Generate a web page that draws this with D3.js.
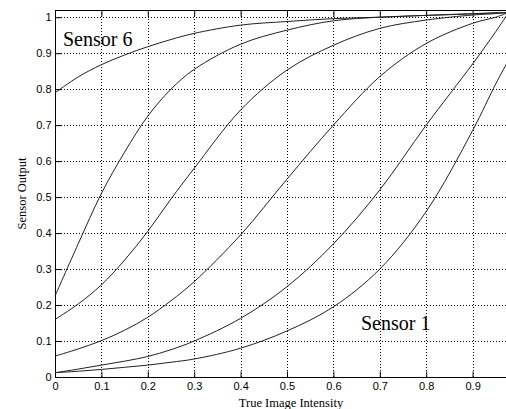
<!DOCTYPE html>
<html>
<head>
<meta charset="utf-8">
<script src="https://cdn.jsdelivr.net/npm/d3@7"></script>
<style>
  body { margin: 0; background: #fff; }
  svg { display: block; }
</style>
</head>
<body>
<svg id="chart" width="506" height="409"></svg>
<script>
// sample positions along the intensity axis
const intensity = [0, 0.05, 0.1, 0.15, 0.2, 0.25, 0.3, 0.4, 0.5, 0.6, 0.7, 0.8, 0.9, 0.95, 0.975];

const sensor1 = [0.012, 0.016, 0.021, 0.027, 0.033, 0.041, 0.05, 0.08, 0.128, 0.195, 0.30, 0.46, 0.685, 0.815, 0.875];
const sensor2 = [0.012, 0.022, 0.033, 0.044, 0.057, 0.076, 0.10, 0.163, 0.251, 0.37, 0.52, 0.70, 0.87, 0.96, 1.008];
const sensor3 = [0.058, 0.078, 0.101, 0.13, 0.166, 0.212, 0.265, 0.395, 0.55, 0.70, 0.835, 0.927, 0.983, 1.0, 1.012];
const sensor4 = [0.16, 0.203, 0.256, 0.325, 0.405, 0.495, 0.58, 0.742, 0.853, 0.922, 0.969, 0.992, 1.006, 1.01, 1.013];
const sensor5 = [0.225, 0.37, 0.51, 0.625, 0.725, 0.80, 0.855, 0.925, 0.964, 0.99, 1.0, 1.005, 1.01, 1.012, 1.013];
const sensor6 = [0.79, 0.834, 0.868, 0.895, 0.918, 0.938, 0.955, 0.978, 0.988, 0.996, 1.0, 1.005, 1.009, 1.012, 1.013];

const xTicks = [0, 0.1, 0.2, 0.3, 0.4, 0.5, 0.6, 0.7, 0.8, 0.9];
const yTicks = [0, 0.1, 0.2, 0.3, 0.4, 0.5, 0.6, 0.7, 0.8, 0.9, 1];

const svg = d3.select("#chart");

const plotLeft = 55, plotRight = 519, plotTop = 10, plotBottom = 377;

const x = d3.scaleLinear().domain([0, 1]).range([plotLeft, plotRight]);
const y = d3.scaleLinear().domain([0, 1.02]).range([plotBottom, plotTop]);

const tickFmt = d => d === 0 ? "0" : d === 1 ? "1" : d3.format(".1f")(d);

// dotted grid
svg.append("g")
  .selectAll("line")
  .data(xTicks.filter(d => d > 0))
  .join("line")
  .attr("x1", d => Math.round(x(d)) + 0.5)
  .attr("x2", d => Math.round(x(d)) + 0.5)
  .attr("y1", plotTop)
  .attr("y2", plotBottom)
  .attr("stroke", "#000")
  .attr("stroke-width", 1)
  .attr("stroke-dasharray", "1,2");

svg.append("g")
  .selectAll("line")
  .data(yTicks.filter(d => d > 0))
  .join("line")
  .attr("x1", plotLeft)
  .attr("x2", 506)
  .attr("y1", d => Math.round(y(d)) + 0.5)
  .attr("y2", d => Math.round(y(d)) + 0.5)
  .attr("stroke", "#000")
  .attr("stroke-width", 1)
  .attr("stroke-dasharray", "1,2");

// axes (ticks pointing inward, matlab style)
const xAxis = svg.append("g")
  .attr("transform", `translate(0,${plotBottom + 0.5})`)
  .call(d3.axisBottom(x).tickValues(xTicks).tickFormat(tickFmt).tickSizeInner(-6).tickSizeOuter(0).tickPadding(5));

const xTop = svg.append("g")
  .attr("transform", `translate(0,${plotTop + 0.5})`)
  .call(d3.axisTop(x).tickValues(xTicks).tickFormat("").tickSizeInner(-6).tickSizeOuter(0));

const yAxis = svg.append("g")
  .attr("transform", `translate(${plotLeft + 0.5},0)`)
  .call(d3.axisLeft(y).tickValues(yTicks).tickFormat(tickFmt).tickSizeInner(-6).tickSizeOuter(0).tickPadding(4));

[xAxis, xTop, yAxis].forEach(g => {
  g.selectAll(".domain").attr("stroke", "#000");
  g.selectAll(".tick line").attr("stroke", "#000");
  g.selectAll("text")
    .attr("fill", "#000")
    .style("font-family", "'Liberation Sans', Arial, sans-serif")
    .style("font-size", "11px");
});

xTop.select(".domain").attr("d", `M${plotLeft},0H506`);
xAxis.select(".domain").attr("d", `M${plotLeft},0H506`);
yAxis.select(".domain").attr("d", `M0,${plotTop}V${plotBottom}`);

// curves
const series = [sensor1, sensor2, sensor3, sensor4, sensor5, sensor6];
const line = d3.line()
  .x((d, i) => x(intensity[i]))
  .y(d => y(d))
  .curve(d3.curveCatmullRom.alpha(0.5));

svg.append("g")
  .selectAll("path")
  .data(series)
  .join("path")
  .attr("d", line)
  .attr("fill", "none")
  .attr("stroke", "#222")
  .attr("stroke-width", 1);

// annotations
svg.append("text")
  .text("Sensor 6")
  .attr("x", 63)
  .attr("y", 46)
  .attr("fill", "#000")
  .style("font-family", "'Liberation Serif', 'Times New Roman', serif")
  .style("font-size", "20px");

svg.append("text")
  .text("Sensor 1")
  .attr("x", 361)
  .attr("y", 330)
  .attr("fill", "#000")
  .style("font-family", "'Liberation Serif', 'Times New Roman', serif")
  .style("font-size", "20px");

// axis titles
svg.append("text")
  .text("True Image Intensity")
  .attr("x", 291)
  .attr("y", 407)
  .attr("text-anchor", "middle")
  .attr("fill", "#000")
  .style("font-family", "'Liberation Serif', 'Times New Roman', serif")
  .style("font-size", "12.5px");

svg.append("text")
  .text("Sensor Output")
  .attr("transform", `translate(26,${(plotTop + plotBottom) / 2}) rotate(-90)`)
  .attr("text-anchor", "middle")
  .attr("fill", "#000")
  .style("font-family", "'Liberation Serif', 'Times New Roman', serif")
  .style("font-size", "12.5px");
</script>
</body>
</html>
